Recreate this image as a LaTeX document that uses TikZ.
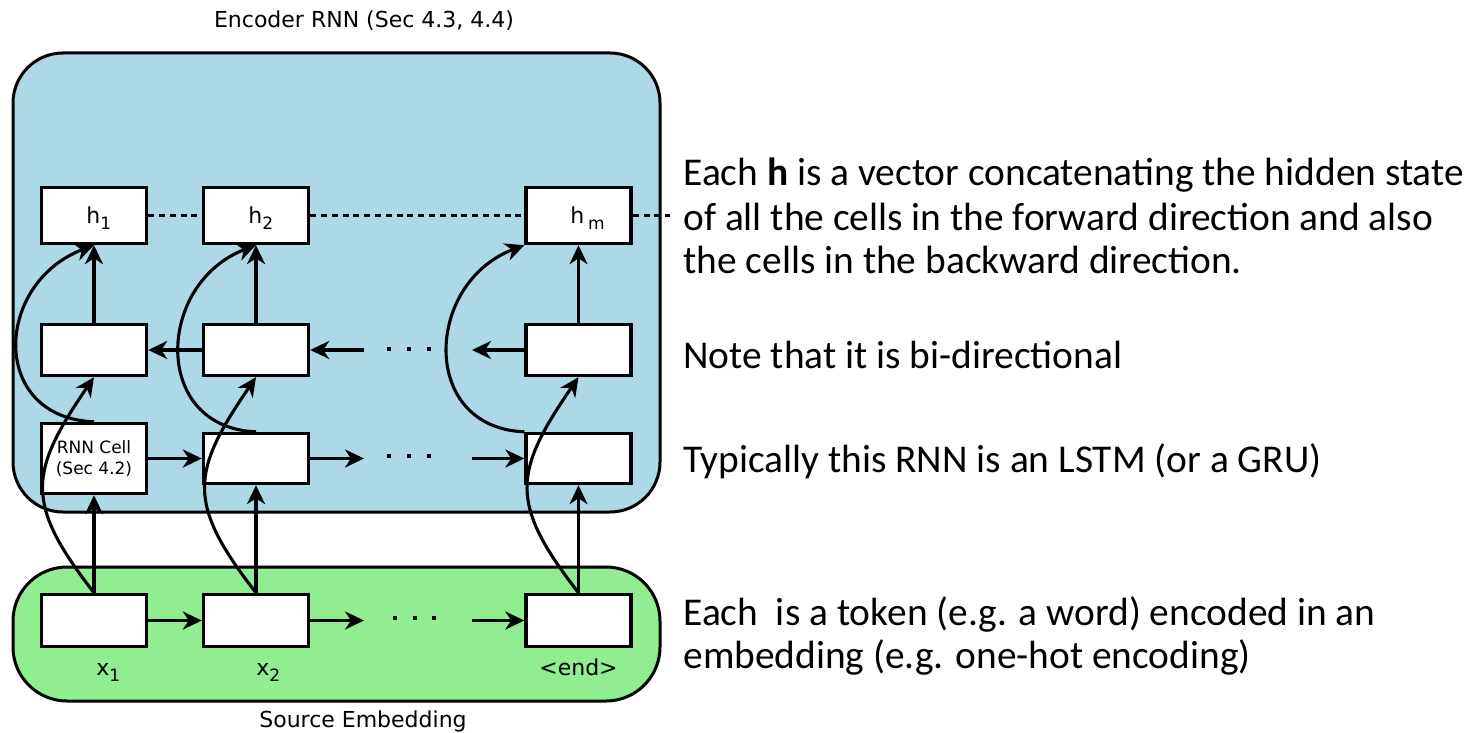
\documentclass[tikz,border=0pt]{standalone}
\usepackage{fontspec}
\setmainfont{DejaVu Sans}
\newfontfamily\notefont{Carlito}
\usetikzlibrary{arrows.meta,calc}

\definecolor{encblue}{RGB}{173,216,230}
\definecolor{embgreen}{RGB}{144,238,144}

% lowered index used in the h and x labels
\newcommand\lowidx[1]{\raisebox{-3.2pt}{\fontsize{8.5}{10}\selectfont #1}}

\begin{document}
\begin{tikzpicture}[x=0.5pt,y=-0.5pt,
  panel/.style={draw=black, line width=1.5pt, inner sep=0pt},
  cell/.style={draw=black, line width=1.7pt, fill=white, minimum width=52.5pt, inner sep=0pt},
  hcell/.style={cell, minimum height=28pt},
  mcell/.style={cell, minimum height=25.5pt},
  bcell/.style={cell, minimum height=25pt},
  ecell/.style={cell, minimum height=26pt},
  conn/.style={line width=1.55pt, -{Stealth[length=9.5pt,width=9pt,inset=3pt]}},
  hdash/.style={line width=1.3pt, dash pattern=on 3pt off 2.4pt},
  lab/.style={font=\fontsize{11}{13}\selectfont, inner sep=0pt},
  note/.style={font=\notefont\fontsize{19.7}{22}\selectfont, anchor=base west, inner sep=0pt},
  dotmark/.style={fill=black}
]

\useasboundingbox (0,0) rectangle (1478,733);

% containers
\node[panel, fill=encblue, rounded corners=25pt, minimum width=323.5pt, minimum height=229.5pt]
  (encoder) at (336.5,282.5) {};
\node[panel, fill=embgreen, rounded corners=27pt, minimum width=323.5pt, minimum height=67pt]
  (embed) at (336.5,634) {};

\node[lab, anchor=base] (title) at (364,28) {Encoder RNN (Sec 4.3, 4.4)};
\node[lab, anchor=base] (srclab) at (363,727) {Source Embedding};

% hidden state outputs
\node[hcell] (h1) at (94,215.5) {};
\node[hcell] (h2) at (256,215.5) {};
\node[hcell] (hm) at (578.5,215.5) {};
\node[lab, anchor=base west] (h1t) at (86,223) {h\lowidx{1}};
\node[lab, anchor=base west] (h2t) at (248,223) {h\lowidx{2}};
\node[lab, anchor=base west] (hmt) at (570,223) {h\,\lowidx{m}};

% backward cells
\node[mcell] (b1) at (94,350) {};
\node[mcell] (b2) at (256,350) {};
\node[mcell] (bm) at (578.5,350) {};

% forward cells
\node[cell, minimum height=35pt, align=center, font=\fontsize{8.5}{10.8}\selectfont]
  (f1) at (94,458.5) {RNN Cell\\(Sec 4.2)};
\node[bcell] (f2) at (256,458.5) {};
\node[bcell] (fm) at (578.5,458.5) {};

% embeddings
\node[ecell] (e1) at (94,620.5) {};
\node[ecell] (e2) at (256,620.5) {};
\node[ecell] (em) at (578.5,620.5) {};
\node[lab, anchor=base west] (x1t) at (96,675) {x\lowidx{1}};
\node[lab, anchor=base west] (x2t) at (256,675) {x\lowidx{2}};
\node[lab, anchor=base] (endt) at (578.5,675) {<end>};

% free ends of the chain arrows
\coordinate (fgo) at (364,458.5);
\coordinate (fin) at (472,458.5);
\coordinate (bgo) at (472,350);
\coordinate (bin) at (364,350);
\coordinate (ego) at (364,620.5);
\coordinate (ein) at (472,620.5);
\coordinate (dashend) at (670,215.5);

% hidden state links
\draw[hdash] (h1.east) -- (h2.west);
\draw[hdash] (h2.east) -- (hm.west);
\draw[hdash] (hm.east) -- (dashend);

% chains along each row
\draw[conn] (f1.east) -- (f2.west);
\draw[conn] (f2.east) -- (fgo);
\draw[conn] (fin) -- (fm.west);
\draw[conn] (b2.west) -- (b1.east);
\draw[conn] (bin) -- (b2.east);
\draw[conn] (bm.west) -- (bgo);
\draw[conn] (e1.east) -- (e2.west);
\draw[conn] (e2.east) -- (ego);
\draw[conn] (ein) -- (em.west);

% ellipses
\foreach \x in {389,409,429} {
  \fill[dotmark] (\x-1.8,347.2) rectangle (\x+1.8,350.8);
  \fill[dotmark] (\x-1.8,454.2) rectangle (\x+1.8,457.8);
}
\foreach \x in {395,415,434} {
  \fill[dotmark] (\x-1.8,616.2) rectangle (\x+1.8,619.8);
}

% vertical links
\draw[conn] (b1.north) -- (h1.south);
\draw[conn] (b2.north) -- (h2.south);
\draw[conn] (bm.north) -- (hm.south);
\draw[conn] (e1.north) -- (f1.south);
\draw[conn] (e2.north) -- (f2.south);
\draw[conn] (em.north) -- (fm.south);

% forward cells feeding the outputs
\draw[conn] (f1.north) .. controls ($(f1.north)+(-105,-4)$) and ($(h1.south)+(-100,38)$) .. (h1.south);
\draw[conn] (f2.north) .. controls ($(f2.north)+(-105,-4)$) and ($(h2.south)+(-100,38)$) .. (h2.south);
\draw[conn] (fm.north west) .. controls ($(fm.north west)+(-105,-4)$) and ($(hm.south west)+(-100,38)$) .. (hm.south west);

% embeddings feeding the backward cells
\draw[conn] (e1.north) .. controls ($(e1.north)+(-70,-90)$) and ($(b1.south)+(-65,95)$) .. (b1.south);
\draw[conn] (e2.north) .. controls ($(e2.north)+(-70,-90)$) and ($(b2.south)+(-65,95)$) .. (b2.south);
\draw[conn] (em.north) .. controls ($(em.north)+(-70,-90)$) and ($(bm.south)+(-65,95)$) .. (bm.south);

% notes
\node[note] (n1) at (683,185) {Each \textbf{h} is a vector concatenating the hidden state};
\node[note] (n2) at (683,230) {of all the cells in the forward direction and also};
\node[note] (n3) at (683,273) {the cells in the backward direction.};
\node[note] (n4) at (683,368) {Note that it is bi-directional};
\node[note] (n5) at (683,472) {Typically this RNN is an LSTM (or a GRU)};
\node[note] (n6) at (683,625) {Each\ \ is a token (e.g. a word) encoded in an};
\node[note] (n7) at (683,668) {embedding (e.g. one-hot encoding)};

\end{tikzpicture}
\end{document}
